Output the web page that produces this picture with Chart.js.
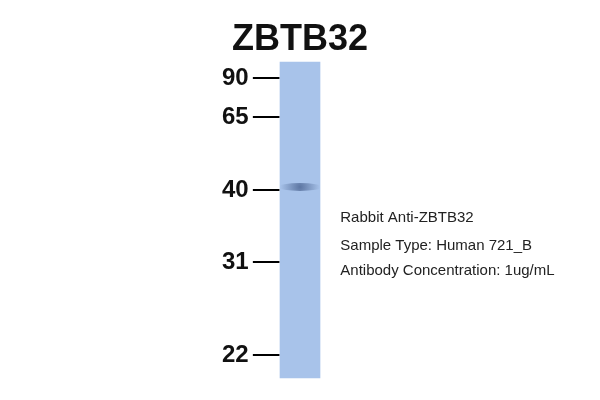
<!DOCTYPE html>
<html><head><meta charset="utf-8">
<script src="https://cdn.jsdelivr.net/npm/chart.js@4"></script>
<style>html,body{margin:0;background:#fff}#w{width:600px;height:400px}</style>
</head><body><div id="w"><canvas id="c"></canvas></div>
<script>
const title = "ZBTB32";
const markerLabels = ["90","65","40","31","22"];
const markerPositions = [78,117,190,262,355];
const laneCenter = [300];
const laneRange = [[62,378]];
const bandPosition = [187];
const annotations = ["Rabbit Anti-ZBTB32","Sample Type: Human 721_B","Antibody Concentration: 1ug/mL"];
const annotationRows = [218,246,271];

const draw = {
  id:'blot',
  afterDatasetsDraw(ch){
    const {ctx, scales:{x,y}} = ch;
    ctx.save();
    // band
    const bx = x.getPixelForValue(laneCenter[0]), by = y.getPixelForValue(bandPosition[0]);
    const g = ctx.createRadialGradient(bx,by,0,bx,by,20);
    g.addColorStop(0,'rgba(80,105,150,0.85)');
    g.addColorStop(1,'rgba(80,105,150,0)');
    ctx.fillStyle=g;
    ctx.save();ctx.translate(bx,by);ctx.scale(1,0.18);ctx.beginPath();ctx.arc(0,0,22,0,Math.PI*2);ctx.restore();ctx.fill();
    // markers
    ctx.strokeStyle='#000';ctx.lineWidth=2;
    ctx.fillStyle='#111';ctx.font='bold 24px Arial, "Liberation Sans"';ctx.textAlign='right';ctx.textBaseline='middle';
    markerPositions.forEach((p,i)=>{
      const py=y.getPixelForValue(p);
      ctx.beginPath();ctx.moveTo(x.getPixelForValue(245),py);ctx.lineTo(x.getPixelForValue(276),py);ctx.stroke();
      ctx.fillText(markerLabels[i],x.getPixelForValue(240),py);
    });
    ctx.textAlign='center';ctx.font='bold 36px Arial, "Liberation Sans"';
    ctx.fillText(title,x.getPixelForValue(300),y.getPixelForValue(40));
    ctx.textAlign='left';ctx.font='15px Arial, "Liberation Sans"';ctx.fillStyle='#222';
    annotations.forEach((t,i)=>ctx.fillText(t,x.getPixelForValue(347),y.getPixelForValue(annotationRows[i])));
    ctx.restore();
  }
};
new Chart(document.getElementById('c'),{
  type:'bar',
  data:{datasets:[{data:laneCenter.map((c,i)=>({x:c,y:laneRange[i]})),backgroundColor:'#a8c3ea',barThickness:40,borderWidth:0}]},
  options:{responsive:true,maintainAspectRatio:false,animation:false,
    layout:{padding:0},
    plugins:{legend:{display:false},tooltip:{enabled:false}},
    scales:{x:{type:'linear',min:0,max:600,display:false},y:{type:'linear',min:0,max:400,reverse:true,display:false}}},
  plugins:[draw]
});
</script></body></html>
